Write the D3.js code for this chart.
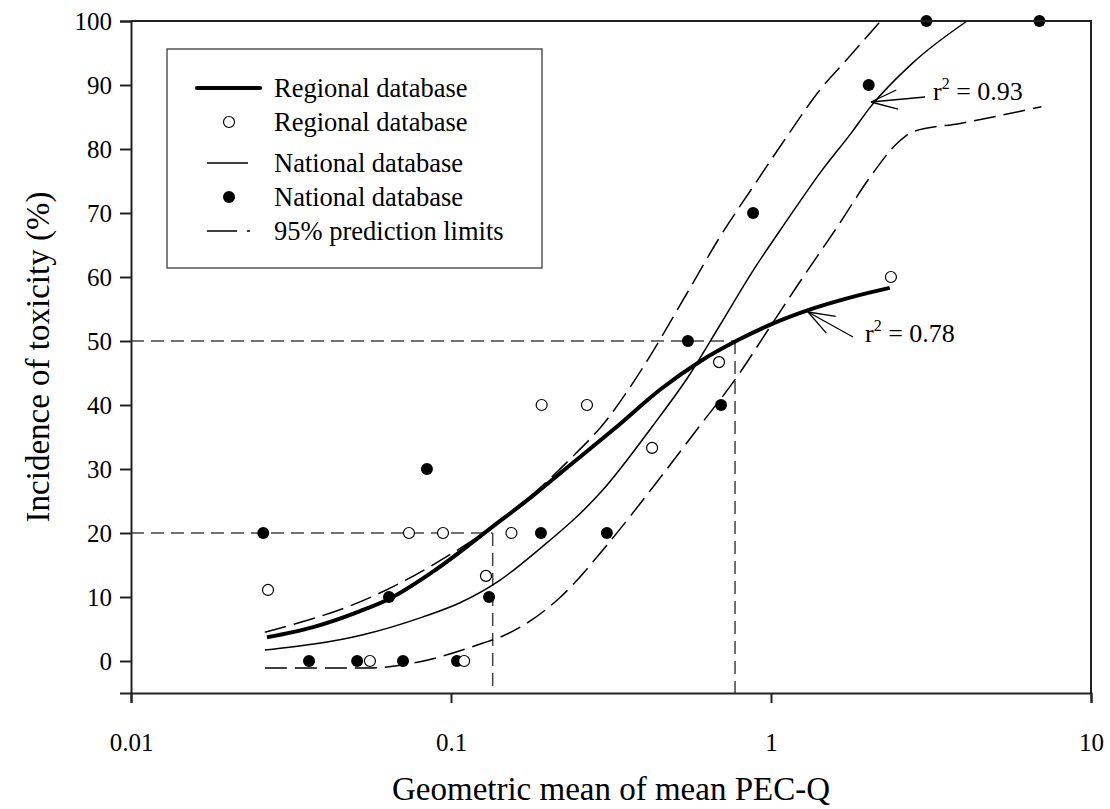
<!DOCTYPE html>
<html>
<head>
<meta charset="utf-8">
<script src="https://cdn.jsdelivr.net/npm/d3@7"></script>
<style>
  body { margin: 0; background: #fff; }
  svg { display: block; }
  svg text { font-family: "Liberation Serif", serif; }
</style>
</head>
<body>
<div id="chart"></div>
<script>
// observed points
const regionalX = [0.0268, 0.0558, 0.1099, 0.0739, 0.0944, 0.1286, 0.1545, 0.192, 0.266, 0.425, 0.688, 2.37];
const regionalY = [11.1, 0, 0, 20, 20, 13.3, 20, 40, 40, 33.3, 46.7, 60];
const nationalX = [0.0259, 0.036, 0.0509, 0.0708, 0.064, 0.0841, 0.1044, 0.1315, 0.191, 0.307, 0.55, 0.698, 0.879, 2.02, 3.06, 6.9];
const nationalY = [20, 0, 0, 0, 10, 30, 0, 10, 20, 20, 50, 40, 70, 90, 100, 100];

// fitted curves
const regFitX = [0.0266, 0.0371, 0.052, 0.064, 0.088, 0.135, 0.18, 0.22, 0.326, 0.453, 0.6, 0.8, 1.0, 1.32, 1.8, 2.35];
const regFitY = [3.7, 5.3, 7.8, 9.7, 14.0, 21, 25.8, 29.4, 36.4, 42.5, 46.8, 50.3, 52.6, 54.9, 56.9, 58.3];
const natFitX = [0.0262, 0.0531, 0.0818, 0.1067, 0.142, 0.187, 0.298, 0.428, 0.558, 0.693, 0.879, 1.12, 1.42, 1.8, 2.04, 2.78, 4.1];
const natFitY = [1.7, 4.1, 6.9, 9.1, 12.6, 17.3, 26.7, 36.8, 44.8, 52.5, 61.0, 68.8, 76.2, 82.8, 86.5, 93.5, 100];
const upperX = [0.0262, 0.0546, 0.1014, 0.135, 0.234, 0.307, 0.381, 0.547, 0.693, 0.879, 1.12, 1.42, 1.72, 2.2];
const upperY = [4.5, 9.7, 16.9, 21, 31.4, 37.7, 44.4, 57.5, 66.3, 74.1, 81.9, 89.2, 93.9, 100];
const lowerX = [0.0262, 0.0546, 0.08, 0.126, 0.142, 0.22, 0.307, 0.428, 0.596, 0.783, 0.993, 1.26, 1.61, 2.04, 2.48, 2.78, 3.9, 7.0];
const lowerY = [-1.1, -1.1, -0.1, 2.8, 3.7, 10, 18.1, 27.2, 36.6, 44.4, 52.2, 60, 67.8, 75.6, 80.9, 82.7, 84, 86.6];

// reference dashed lines (x threshold, y level)
const refX = [0.135, 0.772];
const refY = [20, 50];

const xTicks = [0.01, 0.1, 1, 10];
const yTicks = [0, 10, 20, 30, 40, 50, 60, 70, 80, 90, 100];

const legendItems = ['Regional database', 'Regional database', 'National database', 'National database', '95% prediction limits'];

const width = 1110, height = 809;
const margin = { left: 131, right: 19, top: 21, bottom: 116 };
const serif = '"Liberation Serif", "Times New Roman", serif';

const svg = d3.select('#chart').append('svg')
  .attr('width', width)
  .attr('height', height)
  .attr('font-family', serif);

const x = d3.scaleLog().domain([0.01, 10]).range([margin.left, width - margin.right]);
const y = d3.scaleLinear().domain([-5, 100]).range([height - margin.bottom, margin.top]);

const zip = (xs, ys) => xs.map((v, i) => [v, ys[i]]);

const line = d3.line()
  .x(d => x(d[0]))
  .y(d => y(d[1]))
  .curve(d3.curveMonotoneX);

// reference dashes
refX.forEach((rx, i) => {
  svg.append('line')
    .attr('x1', x(0.01)).attr('x2', x(rx))
    .attr('y1', y(refY[i])).attr('y2', y(refY[i]))
    .attr('stroke', '#444').attr('stroke-width', 1.5)
    .attr('stroke-dasharray', '13,7');
  svg.append('line')
    .attr('x1', x(rx)).attr('x2', x(rx))
    .attr('y1', y(refY[i])).attr('y2', y(-5))
    .attr('stroke', '#444').attr('stroke-width', 1.5)
    .attr('stroke-dasharray', '13,7');
});

// prediction limits
[[upperX, upperY], [lowerX, lowerY]].forEach(([xs, ys]) => {
  svg.append('path')
    .datum(zip(xs, ys))
    .attr('d', line)
    .attr('fill', 'none')
    .attr('stroke', '#000')
    .attr('stroke-width', 1.5)
    .attr('stroke-dasharray', '22,8');
});

// national fit
svg.append('path')
  .datum(zip(natFitX, natFitY))
  .attr('d', line)
  .attr('fill', 'none')
  .attr('stroke', '#000')
  .attr('stroke-width', 1.5);

// regional fit
svg.append('path')
  .datum(zip(regFitX, regFitY))
  .attr('d', line)
  .attr('fill', 'none')
  .attr('stroke', '#000')
  .attr('stroke-width', 4);

// points
svg.append('g').selectAll('circle')
  .data(zip(nationalX, nationalY))
  .join('circle')
  .attr('cx', d => x(d[0]))
  .attr('cy', d => y(d[1]))
  .attr('r', 6)
  .attr('fill', '#000');

svg.append('g').selectAll('circle')
  .data(zip(regionalX, regionalY))
  .join('circle')
  .attr('cx', d => x(d[0]))
  .attr('cy', d => y(d[1]))
  .attr('r', 5.5)
  .attr('fill', '#fff')
  .attr('stroke', '#000')
  .attr('stroke-width', 1.2);

// axes
const xAxis = svg.append('g')
  .attr('transform', `translate(0,${y(-5)})`)
  .call(d3.axisBottom(x).tickValues(xTicks).tickFormat(d3.format('')).tickSize(10).tickPadding(30));
const yAxis = svg.append('g')
  .attr('transform', `translate(${x(0.01)},0)`)
  .call(d3.axisLeft(y).tickValues(yTicks).tickSize(11).tickPadding(8));

[xAxis, yAxis].forEach(g => {
  g.attr('font-family', serif);
  g.select('.domain').attr('stroke', '#222').attr('stroke-width', 2);
  g.selectAll('.tick line').attr('stroke', '#222').attr('stroke-width', 2);
  g.selectAll('.tick text')
    .attr('font-size', 25)
    .attr('fill', '#000');
});
yAxis.selectAll('.tick text').attr('dy', '0.35em');

// top and right frame
svg.append('path')
  .attr('d', `M${x(0.01)},${y(100)}H${x(10)}V${y(-5)}`)
  .attr('fill', 'none')
  .attr('stroke', '#222')
  .attr('stroke-width', 2);

// axis titles
svg.append('text')
  .attr('x', (x(0.01) + x(10)) / 2)
  .attr('y', 800)
  .attr('text-anchor', 'middle')
  .attr('font-size', 33)
  .text('Geometric mean of mean PEC-Q');

svg.append('text')
  .attr('transform', `translate(49,${(y(-5) + y(100)) / 2}) rotate(-90)`)
  .attr('text-anchor', 'middle')
  .attr('font-size', 33)
  .text('Incidence of toxicity (%)');

// r² annotations
function annotate(tip, tail, label, tx, ty) {
  const g = svg.append('g').attr('stroke', '#000').attr('stroke-width', 1.3).attr('fill', 'none');
  g.append('line').attr('x1', tail[0]).attr('y1', tail[1]).attr('x2', tip[0]).attr('y2', tip[1]);
  const ang = Math.atan2(tail[1] - tip[1], tail[0] - tip[0]);
  [-0.35, 0.35].forEach(a => {
    g.append('line')
      .attr('x1', tip[0]).attr('y1', tip[1])
      .attr('x2', tip[0] + 28 * Math.cos(ang + a))
      .attr('y2', tip[1] + 28 * Math.sin(ang + a));
  });
  const t = svg.append('text').attr('x', tx).attr('y', ty).attr('font-size', 26);
  t.append('tspan').text('r');
  t.append('tspan').attr('font-size', 16).attr('dy', -11).text('2');
  t.append('tspan').attr('dy', 11).text(' = ' + label);
}
annotate([871, 102], [925, 97], '0.93', 933, 100);
annotate([808, 312], [853, 337], '0.78', 865, 342);

// legend
const lg = svg.append('g');
lg.append('rect')
  .attr('x', 167).attr('y', 49)
  .attr('width', 375).attr('height', 219)
  .attr('fill', '#fff')
  .attr('stroke', '#555')
  .attr('stroke-width', 1.5);

const rowY = [88, 122, 163, 197, 231];
lg.append('line').attr('x1', 197).attr('x2', 260).attr('y1', rowY[0]).attr('y2', rowY[0])
  .attr('stroke', '#000').attr('stroke-width', 4).attr('stroke-linecap', 'round');
lg.append('circle').attr('cx', 229).attr('cy', rowY[1]).attr('r', 5.5)
  .attr('fill', '#fff').attr('stroke', '#000').attr('stroke-width', 1.2);
lg.append('line').attr('x1', 207).attr('x2', 248).attr('y1', rowY[2]).attr('y2', rowY[2])
  .attr('stroke', '#000').attr('stroke-width', 1.5);
lg.append('circle').attr('cx', 229).attr('cy', rowY[3]).attr('r', 6).attr('fill', '#000');
lg.append('line').attr('x1', 207).attr('x2', 250).attr('y1', rowY[4]).attr('y2', rowY[4])
  .attr('stroke', '#000').attr('stroke-width', 1.5).attr('stroke-dasharray', '30,10');

lg.selectAll('text.item')
  .data(legendItems)
  .join('text')
  .attr('class', 'item')
  .attr('x', 274)
  .attr('y', (d, i) => rowY[i] + 9)
  .attr('font-size', 26.5)
  .text(d => d);
</script>
</body>
</html>
